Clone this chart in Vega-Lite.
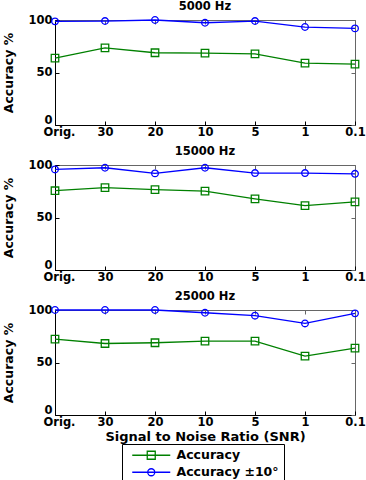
{
  "$schema": "https://vega.github.io/schema/vega-lite/v6.json",
  "padding": {"left": 2, "top": 0, "right": 8, "bottom": 0},
  "config": {
    "font": "DejaVu Sans",
    "view": {"stroke": "#666666", "strokeWidth": 1},
    "axis": {
      "grid": false,
      "domainColor": "#000000",
      "domainWidth": 1,
      "tickColor": "#000000",
      "tickSize": -4,
      "labelFont": "DejaVu Sans",
      "labelFontWeight": "bold",
      "labelFontSize": 11.5,
      "labelColor": "#000000",
      "titleFont": "DejaVu Sans",
      "titleFontWeight": "bold",
      "titleColor": "#000000"
    },
    "title": {
      "font": "DejaVu Sans",
      "fontWeight": "bold",
      "fontSize": 11.5,
      "color": "#000000",
      "offset": 2
    }
  },
  "data": {
    "values": [
      {"panel": "5000 Hz", "snr": "Orig.", "series": "Accuracy", "value": 63.7},
      {"panel": "5000 Hz", "snr": "30", "series": "Accuracy", "value": 73.5},
      {"panel": "5000 Hz", "snr": "20", "series": "Accuracy", "value": 68.8},
      {"panel": "5000 Hz", "snr": "10", "series": "Accuracy", "value": 68.5},
      {"panel": "5000 Hz", "snr": "5", "series": "Accuracy", "value": 67.8},
      {"panel": "5000 Hz", "snr": "1", "series": "Accuracy", "value": 59.0},
      {"panel": "5000 Hz", "snr": "0.1", "series": "Accuracy", "value": 58.0},
      {"panel": "5000 Hz", "snr": "Orig.", "series": "Accuracy ±10°", "value": 98.7},
      {"panel": "5000 Hz", "snr": "30", "series": "Accuracy ±10°", "value": 99.0},
      {"panel": "5000 Hz", "snr": "20", "series": "Accuracy ±10°", "value": 100.0},
      {"panel": "5000 Hz", "snr": "10", "series": "Accuracy ±10°", "value": 97.4},
      {"panel": "5000 Hz", "snr": "5", "series": "Accuracy ±10°", "value": 99.0},
      {"panel": "5000 Hz", "snr": "1", "series": "Accuracy ±10°", "value": 93.3},
      {"panel": "5000 Hz", "snr": "0.1", "series": "Accuracy ±10°", "value": 92.0},
      {"panel": "15000 Hz", "snr": "Orig.", "series": "Accuracy", "value": 75.5},
      {"panel": "15000 Hz", "snr": "30", "series": "Accuracy", "value": 78.4},
      {"panel": "15000 Hz", "snr": "20", "series": "Accuracy", "value": 76.5},
      {"panel": "15000 Hz", "snr": "10", "series": "Accuracy", "value": 75.1},
      {"panel": "15000 Hz", "snr": "5", "series": "Accuracy", "value": 67.8},
      {"panel": "15000 Hz", "snr": "1", "series": "Accuracy", "value": 61.3},
      {"panel": "15000 Hz", "snr": "0.1", "series": "Accuracy", "value": 64.9},
      {"panel": "15000 Hz", "snr": "Orig.", "series": "Accuracy ±10°", "value": 95.8},
      {"panel": "15000 Hz", "snr": "30", "series": "Accuracy ±10°", "value": 97.4},
      {"panel": "15000 Hz", "snr": "20", "series": "Accuracy ±10°", "value": 92.0},
      {"panel": "15000 Hz", "snr": "10", "series": "Accuracy ±10°", "value": 97.4},
      {"panel": "15000 Hz", "snr": "5", "series": "Accuracy ±10°", "value": 92.3},
      {"panel": "15000 Hz", "snr": "1", "series": "Accuracy ±10°", "value": 92.3},
      {"panel": "15000 Hz", "snr": "0.1", "series": "Accuracy ±10°", "value": 91.6},
      {"panel": "25000 Hz", "snr": "Orig.", "series": "Accuracy", "value": 72.3},
      {"panel": "25000 Hz", "snr": "30", "series": "Accuracy", "value": 68.1},
      {"panel": "25000 Hz", "snr": "20", "series": "Accuracy", "value": 68.8},
      {"panel": "25000 Hz", "snr": "10", "series": "Accuracy", "value": 70.4},
      {"panel": "25000 Hz", "snr": "5", "series": "Accuracy", "value": 70.4},
      {"panel": "25000 Hz", "snr": "1", "series": "Accuracy", "value": 56.0},
      {"panel": "25000 Hz", "snr": "0.1", "series": "Accuracy", "value": 63.7},
      {"panel": "25000 Hz", "snr": "Orig.", "series": "Accuracy ±10°", "value": 100.0},
      {"panel": "25000 Hz", "snr": "30", "series": "Accuracy ±10°", "value": 100.0},
      {"panel": "25000 Hz", "snr": "20", "series": "Accuracy ±10°", "value": 100.0},
      {"panel": "25000 Hz", "snr": "10", "series": "Accuracy ±10°", "value": 97.4},
      {"panel": "25000 Hz", "snr": "5", "series": "Accuracy ±10°", "value": 94.6},
      {"panel": "25000 Hz", "snr": "1", "series": "Accuracy ±10°", "value": 87.2},
      {"panel": "25000 Hz", "snr": "0.1", "series": "Accuracy ±10°", "value": 96.8}
    ]
  },
  "spacing": 7,
  "resolve": {"scale": {"color": "shared"}, "legend": {"color": "shared"}},
  "vconcat": [
    {
      "title": "5000 Hz",
      "width": 300,
      "height": 105,
      "transform": [{"filter": "datum.panel === '5000 Hz'"}],
      "resolve": {"axis": {"x": "independent", "y": "independent"}},
      "layer": [
        {
          "mark": {"type": "line", "strokeWidth": 1.3},
          "encoding": {
            "x": {"field": "snr", "type": "ordinal", "sort": ["Orig.", "30", "20", "10", "5", "1", "0.1"], "scale": {"type": "point", "padding": 0}, "axis": {"title": null, "labelAngle": 0, "labelPadding": 5, "labelOffset": {"condition": {"test": "datum.value === 'Orig.'", "value": 4}, "value": 0}}},
            "y": {"field": "value", "type": "quantitative", "scale": {"domain": [0, 100], "nice": false}, "axis": {"values": [0, 50, 100], "title": "Accuracy %", "titleFontSize": 12.5, "titlePadding": 12, "labelPadding": 7, "labelBaseline": {"condition": {"test": "datum.value === 0", "value": "bottom"}, "value": "middle"}}},
            "color": {"field": "series", "type": "nominal", "scale": {"domain": ["Accuracy", "Accuracy ±10°"], "range": ["#008000", "#0000ff"]}}
          }
        },
        {
          "transform": [{"filter": "datum.series === 'Accuracy'"}],
          "mark": {"type": "point", "shape": "square", "filled": false, "size": 56, "strokeWidth": 1.3, "opacity": 1},
          "encoding": {
            "x": {"field": "snr", "type": "ordinal", "sort": ["Orig.", "30", "20", "10", "5", "1", "0.1"], "axis": null},
            "y": {"field": "value", "type": "quantitative", "axis": null},
            "color": {"field": "series", "type": "nominal"}
          }
        },
        {
          "transform": [{"filter": "datum.series !== 'Accuracy'"}],
          "mark": {"type": "point", "shape": "circle", "filled": false, "size": 44, "strokeWidth": 1.3, "opacity": 1},
          "encoding": {
            "x": {"field": "snr", "type": "ordinal", "sort": ["Orig.", "30", "20", "10", "5", "1", "0.1"], "axis": {"orient": "top", "labels": false, "title": null, "domain": false, "tickColor": "#666666"}},
            "y": {"field": "value", "type": "quantitative", "axis": {"orient": "right", "values": [0, 50, 100], "labels": false, "title": null, "domain": false, "tickColor": "#666666"}},
            "color": {"field": "series", "type": "nominal"}
          }
        }
      ]
    },
    {
      "title": "15000 Hz",
      "width": 300,
      "height": 105,
      "transform": [{"filter": "datum.panel === '15000 Hz'"}],
      "resolve": {"axis": {"x": "independent", "y": "independent"}},
      "layer": [
        {
          "mark": {"type": "line", "strokeWidth": 1.3},
          "encoding": {
            "x": {"field": "snr", "type": "ordinal", "sort": ["Orig.", "30", "20", "10", "5", "1", "0.1"], "scale": {"type": "point", "padding": 0}, "axis": {"title": null, "labelAngle": 0, "labelPadding": 5, "labelOffset": {"condition": {"test": "datum.value === 'Orig.'", "value": 4}, "value": 0}}},
            "y": {"field": "value", "type": "quantitative", "scale": {"domain": [0, 100], "nice": false}, "axis": {"values": [0, 50, 100], "title": "Accuracy %", "titleFontSize": 12.5, "titlePadding": 12, "labelPadding": 7, "labelBaseline": {"condition": {"test": "datum.value === 0", "value": "bottom"}, "value": "middle"}}},
            "color": {"field": "series", "type": "nominal", "scale": {"domain": ["Accuracy", "Accuracy ±10°"], "range": ["#008000", "#0000ff"]}}
          }
        },
        {
          "transform": [{"filter": "datum.series === 'Accuracy'"}],
          "mark": {"type": "point", "shape": "square", "filled": false, "size": 56, "strokeWidth": 1.3, "opacity": 1},
          "encoding": {
            "x": {"field": "snr", "type": "ordinal", "sort": ["Orig.", "30", "20", "10", "5", "1", "0.1"], "axis": null},
            "y": {"field": "value", "type": "quantitative", "axis": null},
            "color": {"field": "series", "type": "nominal"}
          }
        },
        {
          "transform": [{"filter": "datum.series !== 'Accuracy'"}],
          "mark": {"type": "point", "shape": "circle", "filled": false, "size": 44, "strokeWidth": 1.3, "opacity": 1},
          "encoding": {
            "x": {"field": "snr", "type": "ordinal", "sort": ["Orig.", "30", "20", "10", "5", "1", "0.1"], "axis": {"orient": "top", "labels": false, "title": null, "domain": false, "tickColor": "#666666"}},
            "y": {"field": "value", "type": "quantitative", "axis": {"orient": "right", "values": [0, 50, 100], "labels": false, "title": null, "domain": false, "tickColor": "#666666"}},
            "color": {"field": "series", "type": "nominal"}
          }
        }
      ]
    },
    {
      "title": "25000 Hz",
      "width": 300,
      "height": 105,
      "transform": [{"filter": "datum.panel === '25000 Hz'"}],
      "resolve": {"axis": {"x": "independent", "y": "independent"}},
      "layer": [
        {
          "mark": {"type": "line", "strokeWidth": 1.3},
          "encoding": {
            "x": {"field": "snr", "type": "ordinal", "sort": ["Orig.", "30", "20", "10", "5", "1", "0.1"], "scale": {"type": "point", "padding": 0}, "axis": {"title": "Signal to Noise Ratio (SNR)", "titleFontSize": 13, "titlePadding": 3, "labelAngle": 0, "labelPadding": 5, "labelOffset": {"condition": {"test": "datum.value === 'Orig.'", "value": 4}, "value": 0}}},
            "y": {"field": "value", "type": "quantitative", "scale": {"domain": [0, 100], "nice": false}, "axis": {"values": [0, 50, 100], "title": "Accuracy %", "titleFontSize": 12.5, "titlePadding": 12, "labelPadding": 7, "labelBaseline": {"condition": {"test": "datum.value === 0", "value": "bottom"}, "value": "middle"}}},
            "color": {
              "field": "series",
              "type": "nominal",
              "scale": {"domain": ["Accuracy", "Accuracy ±10°"], "range": ["#008000", "#0000ff"]},
              "legend": {
                "orient": "none",
                "legendX": 67,
                "legendY": 424,
                "title": null,
                "direction": "vertical",
                "strokeColor": "#000000",
                "fillColor": "#ffffff",
                "padding": 5,
                "symbolSize": 100,
                "symbolOffset": 18,
                "symbolStrokeWidth": 1.3,
                "labelOffset": 19,
                "labelFont": "DejaVu Sans",
                "labelFontWeight": "bold",
                "labelFontSize": 12.5,
                "labelColor": "#000000",
                "rowPadding": 4,
                "encode": {
                  "symbols": {
                    "update": {
                      "shape": {"signal": "datum.value === 'Accuracy' ? 'M-3.8,0H3.8M-0.8,-0.8H0.8V0.8H-0.8Z' : 'M-3.8,0H3.8M-0.7,0A0.7,0.7 0 1,0 0.7,0A0.7,0.7 0 1,0 -0.7,0Z'"},
                      "fill": {"value": "transparent"},
                      "stroke": {"signal": "datum.value === 'Accuracy' ? '#008000' : '#0000ff'"},
                      "strokeWidth": {"value": 1.3},
                      "opacity": {"value": 1}
                    }
                  }
                }
              }
            }
          }
        },
        {
          "transform": [{"filter": "datum.series === 'Accuracy'"}],
          "mark": {"type": "point", "shape": "square", "filled": false, "size": 56, "strokeWidth": 1.3, "opacity": 1},
          "encoding": {
            "x": {"field": "snr", "type": "ordinal", "sort": ["Orig.", "30", "20", "10", "5", "1", "0.1"], "axis": null},
            "y": {"field": "value", "type": "quantitative", "axis": null},
            "color": {"field": "series", "type": "nominal"}
          }
        },
        {
          "transform": [{"filter": "datum.series !== 'Accuracy'"}],
          "mark": {"type": "point", "shape": "circle", "filled": false, "size": 44, "strokeWidth": 1.3, "opacity": 1},
          "encoding": {
            "x": {"field": "snr", "type": "ordinal", "sort": ["Orig.", "30", "20", "10", "5", "1", "0.1"], "axis": {"orient": "top", "labels": false, "title": null, "domain": false, "tickColor": "#666666"}},
            "y": {"field": "value", "type": "quantitative", "axis": {"orient": "right", "values": [0, 50, 100], "labels": false, "title": null, "domain": false, "tickColor": "#666666"}},
            "color": {"field": "series", "type": "nominal"}
          }
        }
      ]
    }
  ]
}
